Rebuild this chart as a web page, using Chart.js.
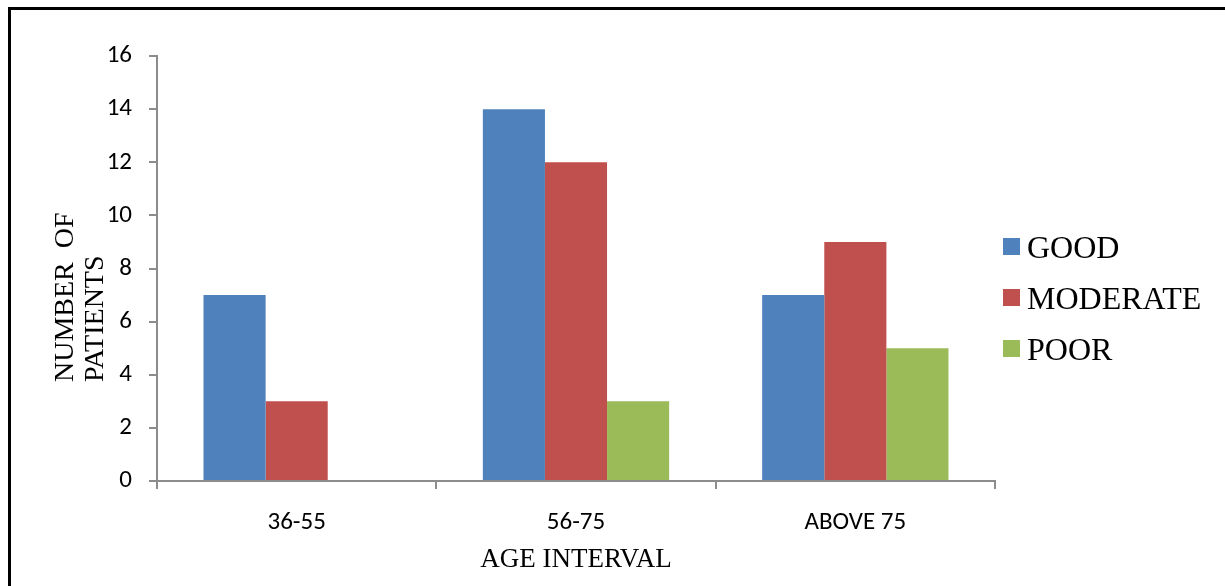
<!DOCTYPE html>
<html>
<head>
<meta charset="utf-8">
<script src="https://cdn.jsdelivr.net/npm/chart.js@4/dist/chart.umd.min.js"></script>
<style>
  html, body { margin: 0; padding: 0; background: #fff; overflow: hidden; }
  #wrap { position: relative; width: 1225px; height: 586px; }
  #chart { position: absolute; left: 0; top: 0; }
  #frame {
    position: absolute; left: 8px; top: 7px; width: 1400px; height: 800px;
    border-left: 3px solid #000; border-top: 3px solid #000; pointer-events: none;
  }
  #legend { position: absolute; left: 1003px; top: 221px; font-family: "Liberation Serif", "Times New Roman", serif; }
  #legend .row { display: flex; align-items: center; height: 51px; }
  #legend .box { width: 17px; height: 17px; margin-right: 7px; }
  #legend .lbl { font-size: 32px; line-height: 1; color: #000; white-space: nowrap; }
</style>
</head>
<body>
<div id="wrap">
  <canvas id="chart" width="1225" height="586"></canvas>
  <div id="legend"></div>
  <div id="frame"></div>
</div>
<script>
// Age groups and patient counts per outcome
const categories = ['36-55', '56-75', 'ABOVE 75'];
const goodCounts = [7, 14, 7];
const moderateCounts = [3, 12, 9];
const poorCounts = [0, 3, 5];
const yTicks = [0, 2, 4, 6, 8, 10, 12, 14, 16];

const seriesNames = ['GOOD', 'MODERATE', 'POOR'];
const seriesColors = ['#4F81BD', '#C0504D', '#9BBB59'];

const axisGray = '#8c8c8c';
const tickFont = { family: '"Carlito", "Lato", sans-serif', size: 25 };
const serif = '"Liberation Serif", "Times New Roman", serif';

// Rotated two-line y-axis caption, left aligned from the bottom
const yTitlePlugin = {
  id: 'yTitle',
  afterDraw(chart) {
    const ctx = chart.ctx;
    ctx.save();
    ctx.font = '28px ' + serif;
    ctx.fillStyle = '#000';
    ctx.textAlign = 'left';
    ctx.textBaseline = 'alphabetic';
    const lines = [['NUMBER  OF', 73.3], ['PATIENTS', 102.8]];
    lines.forEach(([text, x]) => {
      ctx.save();
      ctx.translate(x, 382);
      ctx.rotate(-Math.PI / 2);
      ctx.fillText(text, 0, 0);
      ctx.restore();
    });
    ctx.restore();
  }
};

// Legend built as HTML from the chart's datasets
const htmlLegendPlugin = {
  id: 'htmlLegend',
  afterUpdate(chart) {
    const box = document.getElementById('legend');
    box.innerHTML = '';
    chart.data.datasets.forEach(ds => {
      const row = document.createElement('div');
      row.className = 'row';
      const sw = document.createElement('span');
      sw.className = 'box';
      sw.style.background = ds.backgroundColor;
      const lbl = document.createElement('span');
      lbl.className = 'lbl';
      lbl.textContent = ds.label;
      row.appendChild(sw);
      row.appendChild(lbl);
      box.appendChild(row);
    });
  }
};

const seriesData = [goodCounts, moderateCounts, poorCounts];

new Chart(document.getElementById('chart'), {
  type: 'bar',
  data: {
    labels: categories,
    datasets: seriesData.map((vals, i) => ({
      label: seriesNames[i],
      data: vals,
      backgroundColor: seriesColors[i],
      borderWidth: 0,
      categoryPercentage: 0.667,
      barPercentage: 1.0
    }))
  },
  options: {
    responsive: false,
    animation: false,
    devicePixelRatio: 1,
    layout: { padding: { left: 0, right: 230, top: 56, bottom: 0 } },
    plugins: {
      legend: { display: false },
      tooltip: { enabled: false }
    },
    scales: {
      x: {
        grid: { offset: true, drawOnChartArea: false, drawTicks: true, tickLength: 8, color: axisGray, lineWidth: 2 },
        border: { display: true, color: axisGray, width: 2 },
        ticks: { color: '#000', font: tickFont, padding: 19, maxRotation: 0 },
        title: { display: true, text: 'AGE INTERVAL', color: '#000', font: { family: serif, size: 27 }, padding: { top: 2, bottom: 10 } },
        afterFit(scale) { scale.height = 105; }
      },
      y: {
        min: 0,
        max: 16,
        afterBuildTicks(scale) { scale.ticks = yTicks.map(v => ({ value: v })); },
        grid: { drawOnChartArea: false, drawTicks: true, tickLength: 8, color: axisGray, lineWidth: 2 },
        border: { display: true, color: axisGray, width: 2 },
        ticks: { color: '#000', font: tickFont, padding: 17 },
        afterFit(scale) { scale.width = 157; }
      }
    }
  },
  plugins: [yTitlePlugin, htmlLegendPlugin]
});
</script>
</body>
</html>
